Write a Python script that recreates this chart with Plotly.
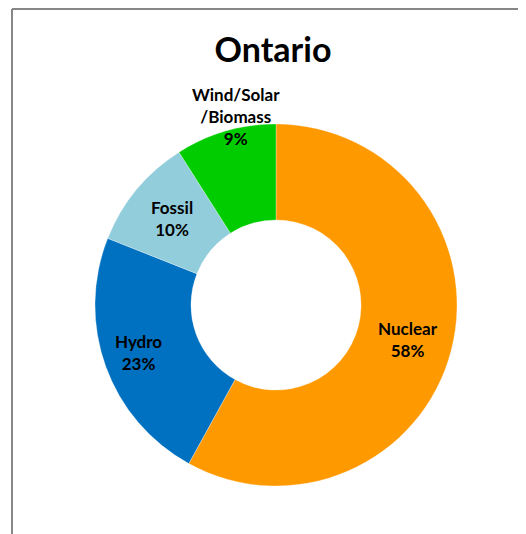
import plotly.graph_objects as go

# Ontario electricity supply mix (share, %)
sources = ["Nuclear", "Hydro", "Fossil", "Wind/Solar<br>/Biomass"]
shares = [58, 23, 10, 9]
colours = ["#FF9900", "#0070C0", "#92CDDC", "#00CC00"]

W, H = 526, 534
OFF = 8  # page body margin of the html page

def px(x, y):
    # screen pixel -> paper coords
    return (x - OFF) / W, 1 - (y - OFF) / H

cx, cy, r = 276, 305, 181
x0, y1 = px(cx - r, cy - r)
x1, y0 = px(cx + r, cy + r)

fig = go.Figure(go.Pie(
    labels=sources,
    values=shares,
    hole=0.47,
    sort=False,
    direction="clockwise",
    rotation=0,
    marker=dict(colors=colours, line=dict(color="white", width=0.3)),
    textinfo="none",
    domain=dict(x=[x0, x1], y=[y0, y1]),
    showlegend=False,
))

# data labels, placed where the original chart has them
label_xy = [(408, 339), (138, 352), (172, 219), (236, 116)]
for name, val, (lx, ly) in zip(sources, shares, label_xy):
    ax, ay = px(lx, ly)
    fig.add_annotation(x=ax, y=ay, xref="paper", yref="paper",
                       text=f"<b>{name}<br>{val}%</b>", showarrow=False,
                       xanchor="center", yanchor="middle",
                       font=dict(family="Lato", size=17, color="black"))

# chart frame (only top and left edges are in view)
fx, fy = px(12, 9)
fig.add_shape(type="line", xref="paper", yref="paper",
              x0=fx, x1=1.01, y0=fy, y1=fy,
              line=dict(color="#878787", width=2))
fig.add_shape(type="line", xref="paper", yref="paper",
              x0=fx, x1=fx, y0=fy, y1=-0.01,
              line=dict(color="#878787", width=2))

tx, ty = px(273, 50)
fig.update_layout(
    width=W, height=H,
    margin=dict(l=0, r=0, t=0, b=0),
    paper_bgcolor="white",
    plot_bgcolor="white",
    title=dict(text="<b>Ontario</b>", x=tx, y=ty,
               xanchor="center", yanchor="middle",
               font=dict(family="Lato", size=34, color="black")),
)

fig.write_html("out.html")
